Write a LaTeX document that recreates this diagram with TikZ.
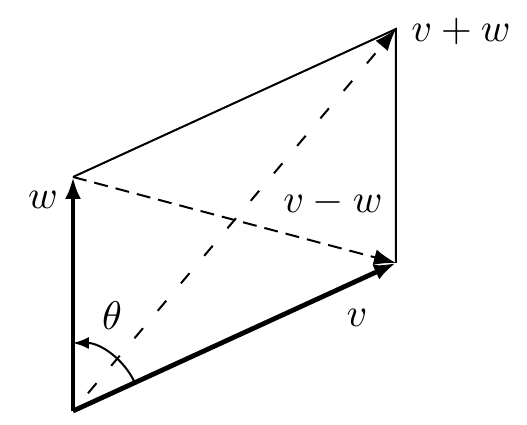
\documentclass[tikz,border=0pt]{standalone}
\usetikzlibrary{arrows.meta}
\begin{document}
\begin{tikzpicture}[x=0.25pt,y=-0.25pt,
  vec/.style={line width=1.2pt,-{Latex[length=5.5pt,width=4pt]}},
  diag/.style={line width=0.5pt,-{Latex[length=5.5pt,width=4pt]}},
  side/.style={line width=0.5pt},
  lab/.style={inner sep=0pt}]
\useasboundingbox (0,0) rectangle (527,425);
\coordinate (O) at (73,411);
\coordinate (V) at (396,263);
\coordinate (W) at (73,177);
\coordinate (S) at (396,29);
\coordinate (A) at (134.8,382.7);
\draw[side] (W) -- (S) -- (V);
\draw[diag,dash pattern=on 3.3pt off 5.7pt,dash phase=3.2pt] (O) -- (S);
\draw[diag,dash pattern=on 3.5pt off 2pt] (W) -- (V);
\draw[vec] (O) -- (W);
\draw[vec] (O) -- (V);
\draw[line width=0.5pt,-{Latex[length=4pt,width=3pt]}] (A) arc[start angle=24.6,end angle=90,radius=17pt];
\node[lab] (lw) at (43,200) {$w$};
\node[lab] (lvw) at (461,32) {$v+w$};
\node[lab] (lvmw) at (333,203) {$v-w$};
\node[lab] (lv) at (357,318) {$v$};
\node[lab] (lt) at (112,316) {$\theta$};
\end{tikzpicture}
\end{document}
